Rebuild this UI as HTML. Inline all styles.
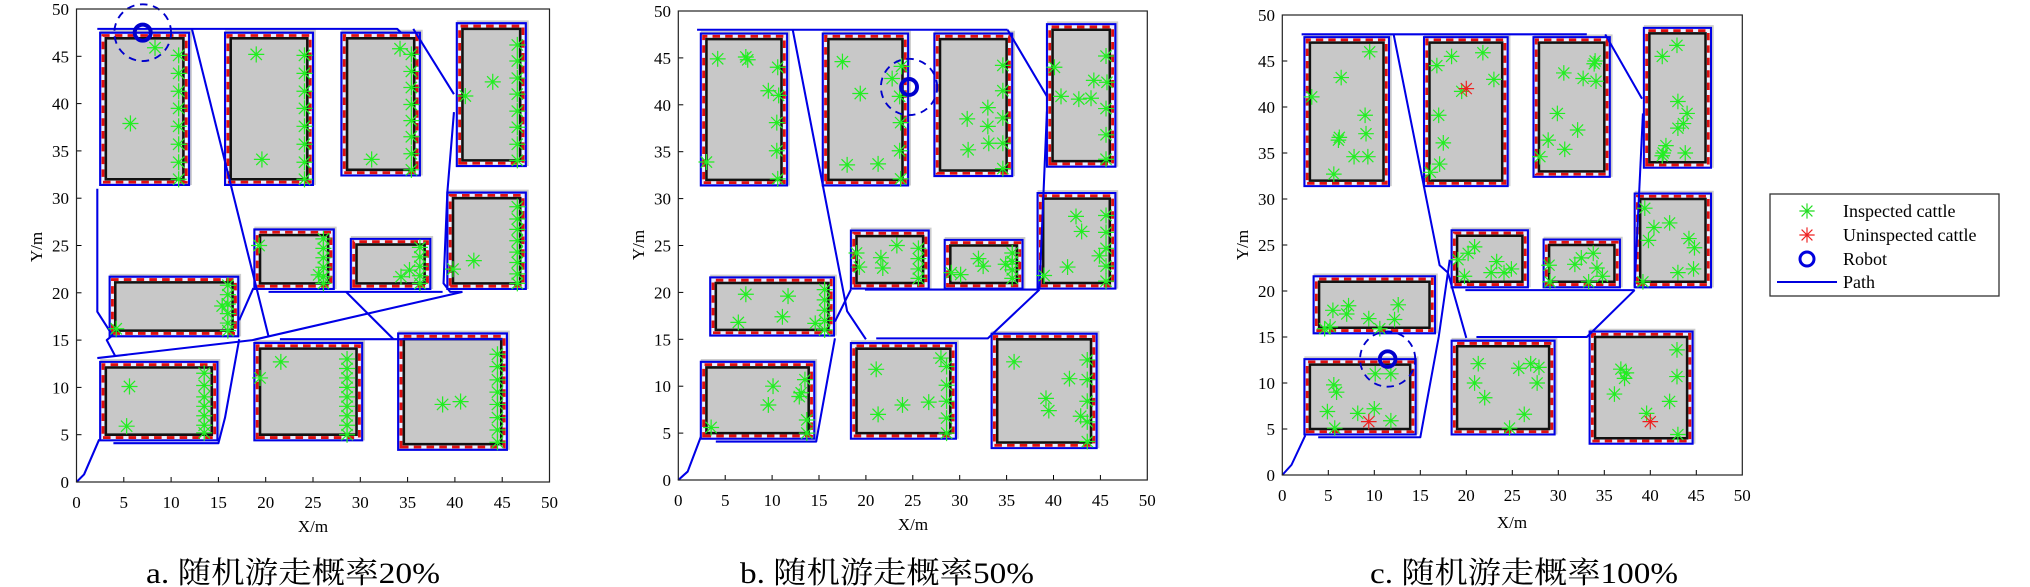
<!DOCTYPE html>
<html><head><meta charset="utf-8"><style>
html,body{margin:0;padding:0;background:#fff;}
svg{display:block;}
text{font-family:"Liberation Serif","Noto Serif CJK SC",serif;fill:#000;}
.t{font-size:17px;}
.xl{text-anchor:middle;}
.yl{text-anchor:end;}
</style></head><body>
<svg id="s" width="2030" height="587" viewBox="0 0 2030 587" xmlns="http://www.w3.org/2000/svg">
<rect width="2030" height="587" fill="#fff"/>
<defs>
<g id="st"><path d="M-0.85 0H0.85M0 -0.85V0.85M-0.6 -0.6L0.6 0.6M-0.6 0.6L0.6 -0.6" stroke-width="0.13" fill="none"/></g>
</defs>
<g id="ga" transform="translate(76.5,482) scale(9.46,-9.46)"></g>
<g id="gb" transform="translate(678.3,480) scale(9.38,-9.38)"></g>
<g id="gc" transform="translate(1282.3,475) scale(9.2,-9.2)"></g>
<g id="ticks" stroke="#000" stroke-width="1"></g>
<rect x="76.5" y="9" width="473" height="473" fill="none" stroke="#222" stroke-width="1.2"/>
<rect x="678.3" y="11" width="469" height="469" fill="none" stroke="#222" stroke-width="1.2"/>
<rect x="1282.3" y="15" width="460" height="460" fill="none" stroke="#222" stroke-width="1.2"/>

<!-- plot a labels -->
<g class="t">
<text class="xl" x="76.5" y="508">0</text><text class="xl" x="123.8" y="508">5</text><text class="xl" x="171.1" y="508">10</text><text class="xl" x="218.4" y="508">15</text><text class="xl" x="265.7" y="508">20</text><text class="xl" x="313" y="508">25</text><text class="xl" x="360.3" y="508">30</text><text class="xl" x="407.6" y="508">35</text><text class="xl" x="454.9" y="508">40</text><text class="xl" x="502.2" y="508">45</text><text class="xl" x="549.5" y="508">50</text>
<text class="yl" x="69" y="488">0</text><text class="yl" x="69" y="440.7">5</text><text class="yl" x="69" y="393.4">10</text><text class="yl" x="69" y="346.1">15</text><text class="yl" x="69" y="298.8">20</text><text class="yl" x="69" y="251.5">25</text><text class="yl" x="69" y="204.2">30</text><text class="yl" x="69" y="156.9">35</text><text class="yl" x="69" y="109.6">40</text><text class="yl" x="69" y="62.3">45</text><text class="yl" x="69" y="15">50</text>
<text class="xl" x="313" y="532">X/m</text>
<text class="xl" transform="translate(42,247) rotate(-90)">Y/m</text>
</g>
<!-- plot b labels -->
<g class="t">
<text class="xl" x="678.3" y="506">0</text><text class="xl" x="725.2" y="506">5</text><text class="xl" x="772.1" y="506">10</text><text class="xl" x="819" y="506">15</text><text class="xl" x="865.9" y="506">20</text><text class="xl" x="912.8" y="506">25</text><text class="xl" x="959.7" y="506">30</text><text class="xl" x="1006.6" y="506">35</text><text class="xl" x="1053.5" y="506">40</text><text class="xl" x="1100.4" y="506">45</text><text class="xl" x="1147.3" y="506">50</text>
<text class="yl" x="671" y="486">0</text><text class="yl" x="671" y="439.1">5</text><text class="yl" x="671" y="392.2">10</text><text class="yl" x="671" y="345.3">15</text><text class="yl" x="671" y="298.4">20</text><text class="yl" x="671" y="251.5">25</text><text class="yl" x="671" y="204.6">30</text><text class="yl" x="671" y="157.7">35</text><text class="yl" x="671" y="110.8">40</text><text class="yl" x="671" y="63.9">45</text><text class="yl" x="671" y="17">50</text>
<text class="xl" x="913" y="530">X/m</text>
<text class="xl" transform="translate(644,245) rotate(-90)">Y/m</text>
</g>
<!-- plot c labels -->
<g class="t">
<text class="xl" x="1282.3" y="501">0</text><text class="xl" x="1328.3" y="501">5</text><text class="xl" x="1374.3" y="501">10</text><text class="xl" x="1420.3" y="501">15</text><text class="xl" x="1466.3" y="501">20</text><text class="xl" x="1512.3" y="501">25</text><text class="xl" x="1558.3" y="501">30</text><text class="xl" x="1604.3" y="501">35</text><text class="xl" x="1650.3" y="501">40</text><text class="xl" x="1696.3" y="501">45</text><text class="xl" x="1742.3" y="501">50</text>
<text class="yl" x="1275" y="481">0</text><text class="yl" x="1275" y="435">5</text><text class="yl" x="1275" y="389">10</text><text class="yl" x="1275" y="343">15</text><text class="yl" x="1275" y="297">20</text><text class="yl" x="1275" y="251">25</text><text class="yl" x="1275" y="205">30</text><text class="yl" x="1275" y="159">35</text><text class="yl" x="1275" y="113">40</text><text class="yl" x="1275" y="67">45</text><text class="yl" x="1275" y="21">50</text>
<text class="xl" x="1512" y="528">X/m</text>
<text class="xl" transform="translate(1248,245) rotate(-90)">Y/m</text>
</g>

<!-- captions -->
<text x="146" y="583" font-size="30" textLength="294" lengthAdjust="spacingAndGlyphs">a. 随机游走概率20%</text>
<text x="740" y="583" font-size="30" textLength="294" lengthAdjust="spacingAndGlyphs">b. 随机游走概率50%</text>
<text x="1370" y="583" font-size="30" textLength="308" lengthAdjust="spacingAndGlyphs">c. 随机游走概率100%</text>

<!-- legend -->
<rect x="1770" y="194" width="229" height="102" fill="#fff" stroke="#333" stroke-width="1.3"/>
<g transform="translate(1807,211) scale(9,9)" stroke="#22dd22"><use href="#st"/></g>
<g transform="translate(1807,235) scale(9,9)" stroke="#ee2222"><use href="#st"/></g>
<circle cx="1807" cy="259" r="7" fill="none" stroke="#0000dd" stroke-width="3"/>
<line x1="1777" y1="282" x2="1837" y2="282" stroke="#0000dd" stroke-width="2"/>
<g font-size="18">
<text x="1843" y="217">Inspected cattle</text>
<text x="1843" y="241">Uninspected cattle</text>
<text x="1843" y="265">Robot</text>
<text x="1843" y="288">Path</text>
</g>
</svg>
<script>
var NS="http://www.w3.org/2000/svg";
function el(p,n,a){var e=document.createElementNS(NS,n);for(var k in a)e.setAttribute(k,a[k]);p.appendChild(e);return e;}
function rp(x1,x2,y1,y2){return "M"+x1+" "+y1+"H"+x2+"V"+y2+"H"+x1+"Z";}
var pensA=[[3.1,11.3,32,46.9],[16.3,24.4,32,46.9],[28.6,35.7,33,46.9],[40.8,46.9,34,47.9],[39.8,46.9,21,30],[19.4,26.6,21,26.1],[29.6,36.8,21,25.1],[4.1,16.5,16,21.1],[3.1,14.3,5,12.1],[19.4,29.6,5,14.1],[34.6,44.9,4,15.1]];
var pensB=[[3,11,32,47],[16,23.9,32,47],[27.9,35,33,47],[39.9,46,34,48],[38.9,46,21,30],[19,26.1,21,26],[29,36.1,21,25],[4,16,16,21],[3,13.9,5,12],[19,29,5,14],[34,44,4,15]];
function col(x,ys){return ys.map(function(y){return [x,y];});}
var catA=[[8.3,45.9],[5.7,37.9]].concat(col(10.8,[45.1,43.2,41.3,39.5,37.6,35.7,33.8,32.0]),
 [[19,45.2],[19.6,34.1]],col(24.1,[45.1,43.2,41.3,39.5,37.6,35.7,33.8,32.0]),
 [[34.2,45.8],[31.2,34.1]],col(35.4,[45.2,43.4,41.7,39.9,38.2,36.5,34.7,33.0]),
 [[44,42.3],[41.1,40.8]],col(46.6,[46.2,44.5,42.7,41.0,39.2,37.5,35.7,34.0]),
 col(46.6,[29.1,27.8,26.7,25.5,24.3,23.2,22.0,21.0]),[[42,23.4],[39.8,22.5]],
 col(26.1,[25.7,24.7,23.7,22.7,21.7,21]),[[19.3,25],[25.6,21.9]],
 col(36.3,[24.8,23.8,22.8,21.8,21]),[[34.3,21.7],[35.2,22.4]],
 col(16.0,[20.8,19.8,18.8,17.8,16.8,16.0]),[[15.4,18.6],[4.2,16.2]],
 [[5.6,10.1],[5.3,5.9]],col(13.5,[11.5,10.2,9,8,7,6,5.2]),
 [[21.6,12.7],[19.4,11]],col(28.6,[13,12,11,10,9,8,7,6,5]),
 [[38.7,8.2],[40.6,8.5]],col(44.5,[13.5,12.2,10.8,9.5,8.2,6.8,5.5,4.2]));
var catB=[[4.2,44.9],[7.2,45.1],[7.4,44.8],[10.6,44.0],[9.6,41.5],[10.7,41],[10.5,38.1],[10.5,35.1],[3.0,33.9],[10.6,32.1],
[17.5,44.6],[22.8,42.8],[23.8,44.1],[19.4,41.2],[23.6,40.9],[23.7,38.1],[23.6,35.1],[18,33.6],[21.3,33.7],[23.7,32.1],
[34.6,44.2],[34.6,41.5],[33,39.7],[30.8,38.5],[33,37.7],[34.6,38.6],[33.1,35.9],[34.6,35.9],[30.9,35.2],[34.6,33.2],
[45.6,45.2],[40.1,44],[44.3,42.6],[45.7,42.4],[40.8,40.9],[42.7,40.6],[44,40.7],[45.6,39.6],[45.6,36.8],[45.6,34.2],
[42.4,28.1],[43,26.5],[45.6,28.2],[45.6,26.4],[45.6,24.7],[45.6,22.8],[45.6,21.2],[44.9,23.9],[41.5,22.7],[39,21.8],
[19,24.2],[19.3,22.7],[21.6,23.7],[21.8,22.6],[23.3,25],[25.6,24.7],[25.6,23.6],[25.6,22.5],[25.6,21.5],
[29.1,22.1],[30.1,21.9],[32,23.6],[32.5,22.8],[34.9,23],[35.6,24.2],[35.6,23.3],[35.6,22.4],[35.6,21.5],
[7.2,19.8],[11.7,19.6],[6.4,16.8],[11.1,17.4],[14.6,16.7],[15.6,20.3],[15.6,19.2],[15.6,18.1],[15.6,17],[15.6,16],
[10.1,10],[9.6,8],[12.9,8.9],[13.1,9.3],[13.5,10.7],[13.7,6.4],[3.5,5.6],[13.7,5],
[21.1,11.8],[21.3,7],[23.9,8],[26.7,8.3],[28,13],[28.6,12.1],[28.6,10.1],[28.6,8.4],[28.6,6.6],[28.6,5],
[35.8,12.6],[39.2,8.7],[39.5,7.4],[41.7,10.8],[42.9,6.8],[43.6,12.8],[43.6,10.7],[43.6,8.4],[43.6,6.2],[43.6,4.1]];
var catC=[[9.5,46],[6.4,43.2],[3.2,41.1],[9,39.1],[9.1,37.1],[6.2,36.7],[6.1,36.4],[7.8,34.6],[9.3,34.6],[5.6,32.7],
[16.8,44.5],[18.4,45.5],[21.8,45.9],[23,43],[19.5,41.7],[17,39.1],[17.5,36.1],[17.1,33.8],[16.1,32.9],
[34,45],[33.9,44.7],[30.6,43.7],[32.7,43.1],[34.1,42.8],[29.9,39.3],[32.1,37.5],[28.9,36.4],[30.7,35.4],[28,34.6],
[41.3,45.5],[42.9,46.7],[43,40.6],[44,39.3],[43.6,38.2],[43,37.7],[41.7,35.8],[41.4,35],[41.3,34.7],[43.8,35],
[39.4,29],[40.4,26.9],[42.1,27.4],[39.8,25.5],[44.2,25.7],[44.8,24.7],[43,22],[44.7,22.4],[39.2,21],
[19.1,23.4],[20.2,24.1],[20.9,24.8],[19.8,21.6],[23.3,23.2],[22.7,22],[24.1,22],[24.9,22.4],
[29,22.8],[31.8,22.9],[32.5,23.6],[33.8,24.1],[34.2,22.5],[33.3,21],[34.8,21.6],[29.1,21],
[5.5,17.9],[7.2,18.4],[7,17.5],[9.4,17],[12.6,18.5],[12.2,16.9],[5.2,16.1],[4.6,15.9],[10.6,15.9],
[10.1,11],[11.8,11],[5.6,9.8],[5.9,9],[4.9,6.9],[8.2,6.7],[10,7.2],[11.8,5.9],[5.7,5.1],
[21.3,12.1],[20.9,10],[22,8.4],[25.7,11.6],[27,12.1],[27.9,11.7],[27.7,10],[26.3,6.6],[24.7,5.1],
[36.8,11.5],[37.4,11.1],[37.2,10.5],[36.1,8.8],[39.6,6.7],[42.9,13.6],[42.9,10.7],[42.1,8],[43,4.4]];
var pathA=["M0 0L0.8 0.8L2.4 4.5","M2.2 47.9H33.9L34.3 47.5","M35.6 47.9L39.9 41","M39.9 39.1L39.2 30.6L38.8 21L39.5 20.1H40.8",
"M2.2 31V18L3.8 15.5L3.2 15L4.1 13.3","M2.2 13.1L18.6 15L40.8 20.1","M12.2 47.9L20.3 15.4","M17.2 17.1L18.7 20.5",
"M20.3 20.1H38.7","M28.5 20.1L33.5 15.1","M21.5 15.1H45","M17.2 15.1L15.7 6.8L15 4.1H3.9"];
var pathB=["M0 0L1 0.9L2.4 4.6","M4 4.1H14.7L16.7 15.1","M16.7 16.9L18.4 20.3","M2 48H35.1","M12.2 48L18 18L20 15",
"M21.1 15.1H33L38.5 20.3","M19.9 20.3H38.5","M38.5 20.3L39.3 39.3","M39.3 40.9L35.1 48"];
var pathC=["M0 0L1 1.1L2.5 4.3","M3.9 4.1H15L17 15L18.2 23.4","M2.1 47.9H33.1","M35.1 47.9L39.1 40.9","M39.2 39.3L38.3 20.5",
"M12.1 47.9L17.1 22.8L18 22L20 14.9","M21.1 15H33.1L38.3 20.1","M19.9 20.1H38.3"];
function draw(id,pens,cat,red,paths,rob){
 var g=document.getElementById(id);
 pens.forEach(function(p){el(g,"path",{d:rp(p[0]-0.6,p[1]+0.9,p[2]-0.6,p[3]+0.9),fill:"#cdcdcd"});});
 pens.forEach(function(p){
  el(g,"path",{d:rp(p[0]-0.6,p[1]+0.6,p[2]-0.6,p[3]+0.6),fill:"none",stroke:"#0000e6","stroke-width":0.22});
  el(g,"path",{d:rp(p[0]-0.3,p[1]+0.3,p[2]-0.3,p[3]+0.3),fill:"none",stroke:"#eeeeff","stroke-width":0.3});
  el(g,"path",{d:rp(p[0]-0.3,p[1]+0.3,p[2]-0.3,p[3]+0.3),fill:"none",stroke:"#e01010","stroke-width":0.3,"stroke-dasharray":"0.8 0.55"});
  el(g,"path",{d:rp(p[0],p[1],p[2],p[3]),fill:"#c8c8c8",stroke:"#111","stroke-width":0.27});
 });
 paths.forEach(function(d){el(g,"path",{d:d,fill:"none",stroke:"#0000e6","stroke-width":0.22,"stroke-linejoin":"round"});});
 cat.forEach(function(c){var u=el(g,"use",{href:"#st",transform:"translate("+c[0]+","+c[1]+")",stroke:"#22ee22"});});
 red.forEach(function(c){el(g,"use",{href:"#st",transform:"translate("+c[0]+","+c[1]+")",stroke:"#ee2020"});});
 el(g,"circle",{cx:rob[0],cy:rob[1],r:0.85,fill:"none",stroke:"#0000cc","stroke-width":0.42});
 el(g,"circle",{cx:rob[0],cy:rob[1],r:3,fill:"none",stroke:"#0000cc","stroke-width":0.2,"stroke-dasharray":"0.8 0.6"});
}
draw("ga",pensA,catA,[],pathA,[7,47.5]);
draw("gb",pensB,catB,[],pathB,[24.6,41.9]);
draw("gc",pensB,catC,[[20,42],[9.4,5.8],[40,5.8]],pathC,[11.45,12.6]);
var T=document.getElementById("ticks");
[[76.5,482,47.3],[678.3,480,46.9],[1282.3,475,46]].forEach(function(a){
 for(var k=1;k<10;k++){
  var x=a[0]+k*a[2],y=a[1]-k*a[2];
  el(T,"line",{x1:x,y1:a[1],x2:x,y2:a[1]-5});
  el(T,"line",{x1:a[0],y1:y,x2:a[0]+5,y2:y});
 }
});
</script>
</body></html>
